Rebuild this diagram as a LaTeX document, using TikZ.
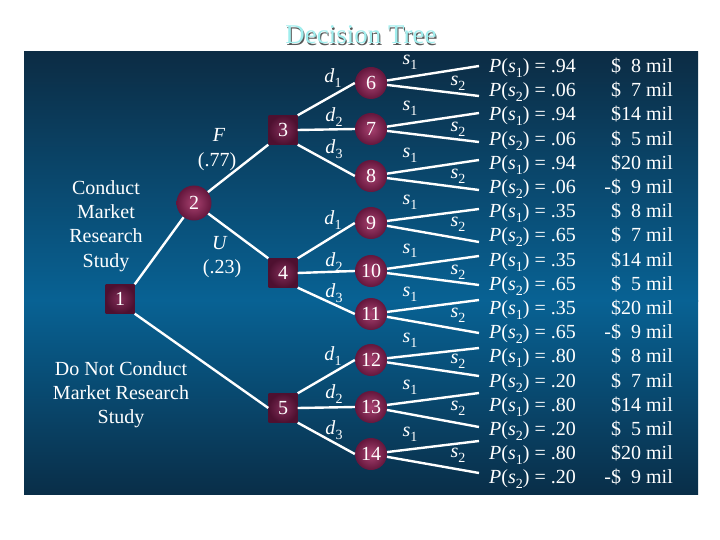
\documentclass[tikz,border=0pt]{standalone}
\usepackage{fontspec}
\setmainfont{Liberation Serif}
\newcommand{\lo}[1]{\raisebox{-0.25em}{\fontsize{14}{14}\selectfont #1}}
\definecolor{bgtop}{RGB}{12,44,68}
\definecolor{bgmid}{RGB}{8,98,148}
\definecolor{bgbot}{RGB}{9,46,72}
\definecolor{cin}{RGB}{168,66,112}
\definecolor{cout}{RGB}{100,22,60}
\definecolor{sin}{RGB}{130,45,88}
\definecolor{sout}{RGB}{78,16,48}
\definecolor{titlec}{RGB}{160,238,238}
\begin{document}
\begin{tikzpicture}[x=1pt,y=-1pt,
  chance/.style={circle, minimum size=32pt, inner sep=0pt, inner color=cin, outer color=cout, text=white, font=\fontsize{20}{20}\selectfont},
  decision/.style={rectangle, minimum size=29pt, inner sep=0pt, inner color=sin, outer color=sout, text=white, font=\fontsize{20}{20}\selectfont},
  edge/.style={draw=white, line width=2.4pt},
  lbl/.style={text=white, font=\fontsize{20}{24}\selectfont, inner sep=0pt, text height=14pt, text depth=5pt},
  slbl/.style={text=white, font=\fontsize{20}{24}\selectfont, inner sep=0pt, text height=9pt, text depth=5pt},
  blk/.style={text=white, font=\fontsize{20}{24.2}\selectfont, inner sep=0pt, align=center}]
\useasboundingbox (0,0) rectangle (720,540);
\fill[white] (0,0) rectangle (720,540);
% background
\shade[top color=bgtop, bottom color=bgmid] (24,52) rectangle (698,301);
\shade[top color=bgmid, bottom color=bgbot] (24,300) rectangle (698,494);
% title
\node[text=gray!70!black, font=\fontsize{27}{27}\selectfont, inner sep=0pt] (titleshadow) at (362,36.5) {Decision Tree};
\node[text=titlec, font=\fontsize{27}{27}\selectfont, inner sep=0pt] (title) at (361,35) {Decision Tree};
% nodes
\node[decision] (n1) at (120,299) {1};
\node[chance, minimum size=35pt] (n2) at (194,203) {2};
\node[decision] (n3) at (283,130) {3};
\node[decision] (n4) at (283,273) {4};
\node[decision] (n5) at (283,408) {5};
\node[chance] (n6) at (371,83) {6};
\node[chance] (n7) at (371,129) {7};
\node[chance] (n8) at (371,176) {8};
\node[chance] (n9) at (371,223) {9};
\node[chance] (n10) at (371,271) {10};
\node[chance] (n11) at (371,314) {11};
\node[chance] (n12) at (371,360) {12};
\node[chance] (n13) at (371,407) {13};
\node[chance] (n14) at (371,454) {14};
% edges
\path[edge] (n1.north east) -- (n2);
\path[edge] (n1.south east) -- (n5.west);
\path[edge] (n2) -- (n3.south west);
\path[edge] (n2) -- (n4.north west);
\foreach \d/\a/\b/\c in {n3/n6/n7/n8, n4/n9/n10/n11, n5/n12/n13/n14}{
  \path[edge] (\d.north east) -- (\a.west);
  \path[edge] (\d.east) -- (\b.west);
  \path[edge] (\d.south east) -- (\c.west);
}
\foreach \k/\yc/\ya/\yb in {6/83/66/96, 7/129/113/142, 8/176/160/190, 9/223/209/242, 10/271/256/285, 11/314/300/333, 12/360/348/376, 13/407/393/427, 14/454/441/473}{
  \coordinate (ea\k) at (479,\ya);
  \coordinate (eb\k) at (479,\yb);
  \path[edge] (n\k) -- (ea\k);
  \path[edge] (n\k) -- (eb\k);
  \node[slbl] (sa\k) at (410,\yc-20) {\textit{s}\lo{1}};
  \node[slbl] (sb\k) at (458,\yc+1) {\textit{s}\lo{2}};
}
% decision labels
\foreach \k/\ya/\yb/\yc in {3/78/117/149, 4/220/262/293, 5/356/394/430}{
  \node[lbl] (da\k) at (333,\ya) {\textit{d}\lo{1}};
  \node[lbl] (db\k) at (334,\yb) {\textit{d}\lo{2}};
  \node[lbl] (dc\k) at (334,\yc) {\textit{d}\lo{3}};
}
% branch labels
\node[lbl] (F) at (219,137) {\textit{F}};
\node[lbl] (Fp) at (217,162) {(.77)};
\node[lbl] (U) at (220,245) {\textit{U}};
\node[lbl] (Up) at (222,269) {(.23)};
\node[blk] (cmr) at (106,226) {Conduct\\Market\\Research\\Study};
\node[blk] (dnc) at (121,395) {Do Not Conduct\\Market Research\\Study};
% probabilities
\foreach \p [count=\i from 0] in {.94,.06,.94,.06,.94,.06,.35,.65,.35,.65,.35,.65,.80,.20,.80,.20,.80,.20}{
  \pgfmathtruncatemacro{\s}{mod(\i,2)+1}
  \node[lbl, anchor=west] (p\i) at (489,68+24.2*\i) {\textit{P}(\textit{s}\lo{\s}) = \p};
}
\foreach \m [count=\i from 0] in {{\$\phantom{1}8},{\$\phantom{1}7},{\$14},{\$\phantom{1}5},{\$20},{-\$\phantom{1}9},{\$\phantom{1}8},{\$\phantom{1}7},{\$14},{\$\phantom{1}5},{\$20},{-\$\phantom{1}9},{\$\phantom{1}8},{\$\phantom{1}7},{\$14},{\$\phantom{1}5},{\$20},{-\$\phantom{1}9}}{
  \node[lbl, anchor=east] (m\i) at (673,68+24.2*\i) {\m\ mil};
}
\end{tikzpicture}
\end{document}
